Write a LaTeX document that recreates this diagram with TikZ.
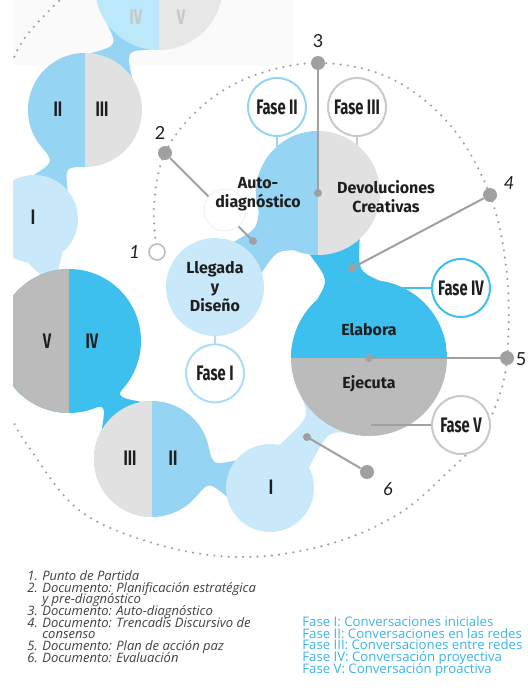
\documentclass[tikz,border=0pt]{standalone}
\usepackage{fontspec}
\setmainfont{Lato}
\newfontfamily\boldfont{Fira Sans}
\newfontfamily\condfont[FakeStretch=0.7]{Fira Sans}
\newfontfamily\legendfont{Open Sans}
\usetikzlibrary{positioning,calc}
\definecolor{mybluei}{RGB}{201,233,250}
\definecolor{myblueii}{RGB}{150,212,244}
\definecolor{myblueiii}{RGB}{62,192,239}
\definecolor{mygreyi}{RGB}{225,225,225}
\definecolor{mygreyii}{RGB}{187,187,187}
\definecolor{mydot}{RGB}{160,160,160}
\definecolor{myink}{RGB}{30,30,30}
\definecolor{mylegend}{RGB}{59,180,231}
\pgfdeclarelayer{background}
\pgfsetlayers{background,main}

\begin{document}
\begin{tikzpicture}[x=0.5pt,y=0.5pt,node distance=3.5pt,
ball/.style={circle,inner sep=0pt,minimum size=#1pt},
halfv/.style 2 args={fill=#2,
  path picture={\fill[#1] (path picture bounding box.south west) rectangle (path picture bounding box.north);}},
halfh/.style 2 args={fill=#2,
  path picture={\fill[#1] (path picture bounding box.north west) rectangle (path picture bounding box.east);}},
spiral/.style={draw=mydot,line width=1.2pt,dash pattern=on 0pt off 3.6pt,line cap=round},
spoke/.style={draw=mydot,line width=1pt},
dotb/.style={circle,fill=mydot,minimum size=7pt,inner sep=0pt},
pinb/.style={circle,fill=mydot,minimum size=4pt,inner sep=0pt},
faseb/.style={
  circle,
  draw,
  line width=1pt,
  fill=white,
  minimum size=29pt,
  inner sep=0pt,
  text=myink,
  font={\condfont\bfseries\fontsize{10.5}{11}\selectfont}},
romb/.style={text=myink,inner sep=0pt,font={\condfont\bfseries\fontsize{10.5}{11}\selectfont}},
labb/.style={text=myink,inner sep=0pt,align=center,font={\boldfont\bfseries\fontsize{8}{9.5}\selectfont}},
numb/.style={text=myink,inner sep=0pt,font={\fontsize{9}{10}\selectfont}},
numi/.style={numb,font={\itshape\fontsize{9}{10}\selectfont}},
docb/.style={inner sep=0pt,align=left,text=myink!85,
  font={\legendfont\itshape\fontsize{6.5}{5.86}\selectfont\lineskiplimit=-10pt}},
faselb/.style={inner sep=0pt,align=left,text=mylegend,
  font={\legendfont\fontsize{6.6}{5.85}\selectfont\lineskiplimit=-10pt}},
]
\useasboundingbox (0,0) rectangle (528,-690);
\begin{scope}
\clip (13,0) rectangle (528,-690);
% the cycles
\node[ball=64,halfv={myblueiii!35}{mygreyii!35}] (topc) at (159,14) {};
\node[ball=57,halfv={myblueii}{mygreyi}] (c23) at (85,-110) {};
\node[ball=44,fill=mybluei] (i1) at (34,-219) {};
\node[ball=72,halfv={mygreyii}{myblueiii}] (c54) at (69,-341) {};
\node[ball=58,halfv={mygreyi}{myblueii}] (c32) at (152,-459) {};
\node[ball=44,fill=mybluei] (i2) at (270,-488) {};
\node[ball=78,halfh={myblueiii}{mygreyii}] (elab) at (369,-358) {};
\node[ball=62,halfv={myblueii}{mygreyi}] (auto) at (318,-193) {};
\node[ball=49,fill=mybluei] (lleg) at (215,-287) {};
% documents
\node[ball=8,draw=mydot!70,line width=0.8pt,fill=white] (d1) at (157,-252) {};
\node[dotb] (d2) at (165,-153) {};
\coordinate (e2) at (253,-241);
\node[dotb] (d3) at (318,-63) {};
\node[dotb] (d4) at (490,-195) {};
\coordinate (e4) at (352,-268);
\node[dotb] (d5) at (507,-358) {};
\node[dotb] (d6) at (367,-472) {};
\coordinate (e6) at (307,-437);
\draw[spoke] (d2) -- (e2);
\draw[spoke] (d3) -- (auto.center);
\draw[spoke] (d4) -- (e4);
\draw[spoke] (d5) -- (elab.center);
\draw[spoke] (d6) -- (e6);
\foreach \p in {e2,auto.center,e4,elab.center,e6}
  \node[pinb] at (\p) {};
\node[ball=21,fill=white,draw=black!6] (w2) at (225,-210) {};
% phases
\node[faseb,draw=myblueii!80,below=of lleg] (f1) {Fase I};
\node[faseb,draw=myblueii] (f2) at (277,-107) {Fase II};
\node[faseb,draw=mygreyi!90!black] (f3) at (357,-107) {Fase III};
\node[faseb,draw=myblueiii] (f4) at (461,-288) {Fase IV};
\node[faseb,draw=mygreyii!80] (f5) at (461,-425) {Fase V};
\draw[spoke] (f5.west) -- ++(-60,0);
% labels
\node[labb] (autot) at (258,-194) {Auto-\\diagnóstico};
\node[labb] (devt) at (386,-197) {Devoluciones\\Creativas};
\node[labb] (llegt) at (lleg) {Llegada\\y\\Diseño};
\node[labb] (elabt) at (369,-330) {Elabora};
\node[labb] (eject) at (369,-384) {Ejecuta};
\node[romb,text=myink!25] (topiv) at (136,-17) {IV};
\node[romb,text=myink!25] (topv) at (181,-17) {V};
\node[romb] (c23ii) at (58,-109) {II};
\node[romb] (c23iii) at (102,-109) {III};
\node[romb] (i1t) at (33,-217) {I};
\node[romb] (c54v) at (47,-341) {V};
\node[romb] (c54iv) at (92,-341) {IV};
\node[romb] (c32iii) at (130,-458) {III};
\node[romb] (c32ii) at (173,-458) {II};
\node[romb] (i2t) at (271,-487) {I};
\node[numi,left=4pt of d1] (n1) {1};
\node[numb] (n2) at (160,-133) {2};
\node[numb,above=4pt of d3] (n3) {3};
\node[numi] (n4) at (509,-183) {4};
\node[numb] (n5) at (521,-359) {5};
\node[numi] (n6) at (388,-489) {6};
% legend
\node[docb,anchor=north west] (docs) at (27,-570) {1. Punto de Partida\\
2. Documento: Planificación estratégica\\
\hphantom{2. }y pre-diagnóstico\\
3. Documento: Auto-diagnóstico\\
4. Documento: Trencadís Discursivo de\\
\hphantom{4. }consenso\\
5. Documento: Plan de acción paz\\
6. Documento: Evaluación};
\node[faselb,anchor=north west] (fasel) at (302,-616) {Fase I: Conversaciones iniciales\\
Fase II: Conversaciones en las redes\\
Fase III: Conversaciones entre redes\\
Fase IV: Conversación proyectiva\\
Fase V: Conversación proactiva};
\end{scope}
\begin{pgfonlayer}{background}
\begin{scope}
\clip (13,0) rectangle (528,-690);
\fill[black!2] (13,0) rectangle (293,-65);
\draw[spiral] plot[smooth,tension=0.6] coordinates {(157,-252) (154,-205) (165,-153)
  (200,-108) (250,-77) (318,-63) (390,-78) (450,-125) (490,-195) (507,-275) (507,-358)
  (496,-405) (476,-443) (450,-470) (400,-513) (333,-543) (250,-557) (167,-547) (83,-513)
  (33,-453) (5,-400) (-15,-300) (-10,-180) (5,-90) (22,-42) (60,0)};
% necks between the cycles
\foreach \na/\ra/\nb/\rb/\nw/\col in {
  topc/32pt/c23/28.5pt/2.4pt/myblueii,
  c23/28.5pt/i1/22pt/3.1pt/myblueii,
  i1/22pt/c54/36pt/1.9pt/mybluei,
  c54/36pt/c32/29pt/2.7pt/myblueiii,
  c32/29pt/i2/22pt/4.4pt/myblueii,
  i2/22pt/elab/39pt/5.7pt/mybluei,
  elab/39pt/auto/31pt/7.7pt/myblueiii,
  auto/31pt/lleg/24.5pt/7.4pt/myblueii}
  \fill[\col] ($(\na)!\ra!25:(\nb)$) .. controls ($(\na)!0.5!(\nb)!\nw!90:(\nb)$) .. ($(\nb)!\rb!-25:(\na)$)
    -- ($(\nb)!\rb!25:(\na)$) .. controls ($(\na)!0.5!(\nb)!\nw!-90:(\nb)$) .. ($(\na)!\ra!-25:(\nb)$) -- cycle;
\draw[line width=1pt,myblueii!80] (f1.center) -- (lleg.center);
\draw[line width=1pt,myblueii] (f2.center) -- (f2.center |- auto.center);
\draw[line width=1pt,mygreyi!90!black] (f3.center) -- (f3.center |- auto.center);
\draw[line width=1pt,myblueiii] (f4.center) -- ++(-70,0);
\end{scope}
\end{pgfonlayer}
\end{tikzpicture}
\end{document}
